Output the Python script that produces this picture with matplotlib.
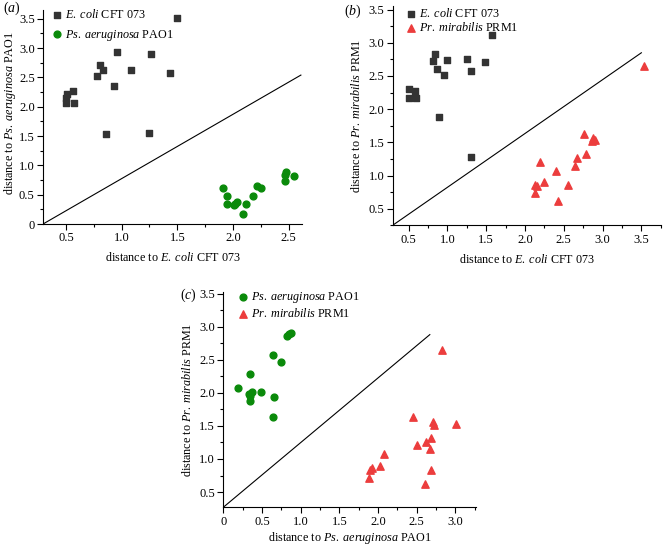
import matplotlib
matplotlib.use('Agg')
import matplotlib.pyplot as plt
from matplotlib.ticker import AutoMinorLocator, FuncFormatter, MultipleLocator

plt.rcParams['font.family'] = ['Liberation Serif', 'DejaVu Serif']
plt.rcParams['mathtext.fontset'] = 'custom'
plt.rcParams['mathtext.rm'] = 'Liberation Serif'
plt.rcParams['mathtext.it'] = 'Liberation Serif:italic'
plt.rcParams['font.size'] = 8.5

# (a) E. coli vs Ps. aeruginosa
a_ecoli_x = [1.50, 0.96, 1.26, 0.81, 0.83, 0.78, 1.08, 1.43, 0.93, 0.56, 0.51, 0.50, 0.50, 0.57, 0.86, 1.25]
a_ecoli_y = [3.52, 2.94, 2.90, 2.71, 2.63, 2.53, 2.62, 2.57, 2.35, 2.27, 2.22, 2.15, 2.06, 2.07, 1.53, 1.55]
a_psa_x = [1.91, 1.95, 1.95, 2.01, 2.02, 2.04, 2.12, 2.09, 2.18, 2.22, 2.25, 2.47, 2.47, 2.48, 2.55]
a_psa_y = [0.62, 0.48, 0.34, 0.32, 0.34, 0.37, 0.34, 0.17, 0.48, 0.64, 0.62, 0.73, 0.84, 0.88, 0.82]

# (b) E. coli vs Pr. mirabilis
b_ecoli_x = [1.57, 0.84, 0.81, 1.00, 1.25, 1.49, 0.87, 0.96, 1.31, 0.51, 0.58, 0.51, 0.59, 0.89, 1.30]
b_ecoli_y = [3.12, 2.83, 2.72, 2.74, 2.75, 2.71, 2.61, 2.51, 2.57, 2.31, 2.28, 2.17, 2.17, 1.88, 1.28]
b_prm_x = [3.53, 2.76, 2.88, 2.87, 2.90, 2.79, 2.67, 2.65, 2.19, 2.40, 2.13, 2.15, 2.24, 2.13, 2.55, 2.43]
b_prm_y = [2.65, 1.63, 1.57, 1.52, 1.53, 1.32, 1.26, 1.14, 1.21, 1.07, 0.86, 0.84, 0.90, 0.74, 0.85, 0.62]

# (c) Ps. aeruginosa vs Pr. mirabilis
c_psa_x = [0.88, 0.85, 0.83, 0.64, 0.75, 0.35, 0.19, 0.33, 0.37, 0.35, 0.49, 0.34, 0.66, 0.64]
c_psa_y = [2.91, 2.89, 2.86, 2.57, 2.47, 2.28, 2.07, 1.98, 2.01, 1.95, 2.01, 1.87, 1.93, 1.64]
c_prm_x = [2.83, 2.45, 2.71, 2.72, 3.01, 2.68, 2.62, 2.50, 2.67, 2.08, 2.02, 1.90, 1.92, 1.89, 2.69, 2.61]
c_prm_y = [2.64, 1.63, 1.56, 1.51, 1.53, 1.32, 1.25, 1.21, 1.15, 1.08, 0.90, 0.84, 0.86, 0.72, 0.84, 0.62]

GREY = '#333333'
GREEN = '#0a8a0a'
RED = '#ec3d3d'

ECOLI = r'$\mathit{E.\;coli}$ CFT 073'
PSA = r'$\mathit{Ps.\;aeruginosa}$ PAO1'
PRM = r'$\mathit{Pr.\;mirabilis}$ PRM1'

W, H = 663.0, 546.0


def fmt(v, pos):
    if abs(v) < 1e-9:
        return '0'
    return '%.1f' % v


def style(ax, xlim, ylim, xlabel, ylabel, leg_xy, spacing, xpad=5):
    ax.set_xlim(*xlim)
    ax.set_ylim(*ylim)
    ax.spines['top'].set_visible(False)
    ax.spines['right'].set_visible(False)
    ax.xaxis.set_major_locator(MultipleLocator(0.5))
    ax.yaxis.set_major_locator(MultipleLocator(0.5))
    ax.xaxis.set_minor_locator(AutoMinorLocator(2))
    ax.yaxis.set_minor_locator(AutoMinorLocator(2))
    ax.xaxis.set_major_formatter(FuncFormatter(fmt))
    ax.yaxis.set_major_formatter(FuncFormatter(fmt))
    ax.tick_params(which='major', direction='out', length=4, width=0.8, labelsize=9, pad=2)
    ax.tick_params(which='minor', direction='out', length=2, width=0.8)
    ax.set_xlabel(xlabel, fontsize=8.7, labelpad=xpad)
    ax.set_ylabel(ylabel, fontsize=8.7, labelpad=4)
    ax.legend(loc='upper left', frameon=False, fontsize=8.7, handletextpad=0.3,
              handlelength=0.8, labelspacing=spacing, borderpad=0, borderaxespad=0,
              bbox_to_anchor=(leg_xy[0] / W, 1 - leg_xy[1] / H),
              bbox_transform=fig.transFigure)


fig = plt.figure(figsize=(6.63, 5.46), dpi=100)

ax1 = fig.add_axes([0.0649, 0.5897, 0.3906, 0.392])
ax1.plot([0.294, 2.61], [0.0, 2.54], color='black', lw=0.8)
ax1.scatter(a_ecoli_x, a_ecoli_y, marker='s', s=22, color=GREY, label=ECOLI, zorder=3)
ax1.scatter(a_psa_x, a_psa_y, marker='o', s=24, color=GREEN, label=PSA, zorder=3)
style(ax1, (0.294, 2.62), (0, 3.65), 'distance to ' + ECOLI, 'distance to ' + PSA,
      (52, 8), 0.55)
ax1.yaxis.set_label_coords(-0.098, 0.52)
fig.text(3 / W, 1 - 8 / H, r'($\mathit{a}$)', fontsize=10, va='center')

ax2 = fig.add_axes([0.5923, 0.5874, 0.4043, 0.401])
ax2.plot([0.294, 3.50], [0.25, 2.85], color='black', lw=0.8)
ax2.scatter(b_ecoli_x, b_ecoli_y, marker='s', s=22, color=GREY, label=ECOLI, zorder=3)
ax2.scatter(b_prm_x, b_prm_y, marker='^', s=28, color=RED, label=PRM, zorder=3)
style(ax2, (0.294, 3.75), (0.25, 3.55), 'distance to ' + ECOLI, 'distance to ' + PRM,
      (406, 7), 0.1)
fig.text(344 / W, 1 - 11 / H, r'($\mathit{b}$)', fontsize=10, va='center')

ax3 = fig.add_axes([0.3368, 0.0709, 0.3815, 0.395])
ax3.plot([0.0, 2.67], [0.27, 2.88], color='black', lw=0.8)
ax3.scatter(c_psa_x, c_psa_y, marker='o', s=24, color=GREEN, label=PSA, zorder=3)
ax3.scatter(c_prm_x, c_prm_y, marker='^', s=28, color=RED, label=PRM, zorder=3)
style(ax3, (0.0, 3.27), (0.27, 3.53), 'distance to ' + PSA, 'distance to ' + PRM,
      (238, 290), 0.2, xpad=2)
fig.text(180 / W, 1 - 295 / H, r'($\mathit{c}$)', fontsize=10, va='center')

fig.savefig('out.png', dpi=100)
